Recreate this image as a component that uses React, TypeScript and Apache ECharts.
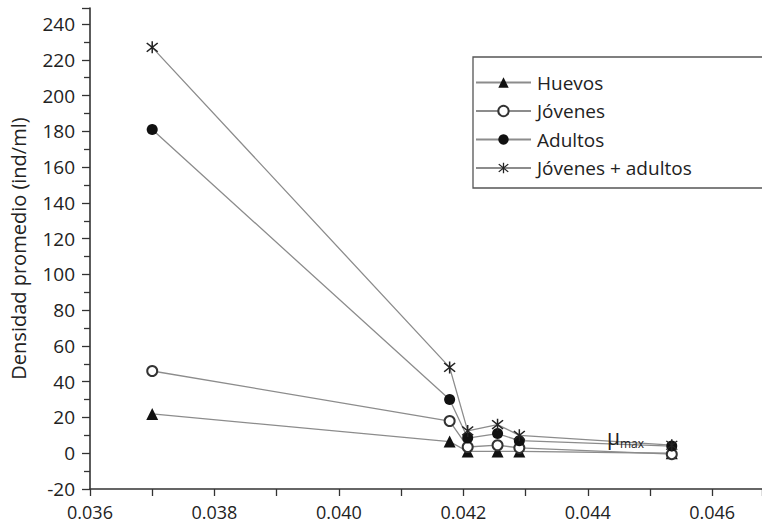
import React, { useEffect, useRef } from "react";
import * as echarts from "echarts";

const xValues = [0.037, 0.04178, 0.04207, 0.04255, 0.0429, 0.04535];
const huevos = [22, 6.5, 1, 1, 1, 0];
const jovenes = [46, 18, 3.5, 4.5, 3, -0.5];
const adultos = [181, 30, 8.5, 11, 7, 4];
const jovenesAdultos = [227, 48, 12.5, 16, 10, 4.5];
const seriesNames = ["Huevos", "Jóvenes", "Adultos", "Jóvenes + adultos"];
const yAxisTitle = "Densidad promedio (ind/ml)";

const STAR =
  "path://M9 0 L11 0 L11 20 L9 20 Z M3.4 2 L18 16.6 L16.6 18 L2 3.4 Z M16.6 2 L18 3.4 L3.4 18 L2 16.6 Z";

const FONT = "'Open Sans', 'Noto Sans', sans-serif";

export default function App() {
  const ref = useRef<HTMLDivElement>(null);
  useEffect(() => {
    if (!ref.current) return;
    const chart = echarts.init(ref.current, null, { renderer: "svg" });
    const pair = (ys: number[]) => xValues.map((x, i) => [x, ys[i]]);
    const lineStyle = { color: "#8c8c8c", width: 1.3 };
    const base = {
      type: "line" as const,
      showSymbol: true,
      lineStyle,
      emphasis: { disabled: true },
    };
    chart.setOption({
      animation: false,
      textStyle: { fontFamily: FONT },
      grid: { left: 88, right: 0, top: 8, bottom: 35, containLabel: false },
      xAxis: {
        type: "value",
        min: 0.036,
        max: 0.0468,
        interval: 0.002,
        axisLine: { onZero: false, lineStyle: { color: "#333", width: 1.6 } },
        axisTick: { inside: false, length: 7, lineStyle: { color: "#333", width: 1.3 } },
        minorTick: { show: true, splitNumber: 2, length: 7, lineStyle: { color: "#333", width: 1.3 } },
        splitLine: { show: false },
        axisLabel: {
          color: "#222",
          fontSize: 18,
          lineHeight: 18,
          margin: 14,
          showMaxLabel: false,
          formatter: (v: number) => v.toFixed(3),
        },
      },
      yAxis: {
        type: "value",
        min: -20,
        max: 249,
        interval: 20,
        name: yAxisTitle,
        nameLocation: "middle",
        nameGap: 62,
        nameTextStyle: { color: "#222", fontSize: 20, fontFamily: FONT },
        axisLine: { show: true, onZero: false, lineStyle: { color: "#333", width: 1.6 } },
        axisTick: { show: true, length: 8, lineStyle: { color: "#333", width: 1.3 } },
        minorTick: { show: true, splitNumber: 2, length: 6, lineStyle: { color: "#333", width: 1.3 } },
        splitLine: { show: false },
        axisLabel: { color: "#222", fontSize: 19, margin: 15, showMaxLabel: false },
      },
      legend: {
        orient: "vertical",
        left: 470,
        top: 68,
        itemWidth: 55,
        itemHeight: 13,
        itemGap: 9.5,
        data: seriesNames,
        textStyle: { color: "#222", fontSize: 19, fontFamily: FONT, padding: [0, 0, 0, 1] },
        selectedMode: false,
      },
      graphic: [
        {
          type: "rect",
          shape: { x: 473, y: 57, width: 400, height: 131 },
          style: { fill: "none", stroke: "#555", lineWidth: 1.3 },
          z: 0,
        },
        {
          type: "text",
          x: 607,
          y: 426,
          style: { text: "μ", fontSize: 21, fill: "#222", fontFamily: FONT },
          z: 100,
        },
        {
          type: "text",
          x: 620,
          y: 437,
          style: { text: "max", fontSize: 12, fill: "#222", fontFamily: FONT },
          z: 100,
        },
      ],
      series: [
        {
          ...base,
          name: seriesNames[0],
          data: pair(huevos),
          symbol: "triangle",
          symbolSize: 12,
          itemStyle: { color: "#111" },
        },
        {
          ...base,
          name: seriesNames[1],
          data: pair(jovenes),
          symbol: "emptyCircle",
          symbolSize: 10,
          itemStyle: { color: "#333", borderWidth: 1.6 },
        },
        {
          ...base,
          name: seriesNames[2],
          data: pair(adultos),
          symbol: "circle",
          symbolSize: 11,
          itemStyle: { color: "#111" },
        },
        {
          ...base,
          name: seriesNames[3],
          data: pair(jovenesAdultos),
          symbol: STAR,
          symbolSize: 12,
          itemStyle: { color: "#222" },
        },
      ],
    });
    return () => chart.dispose();
  }, []);
  return <div ref={ref} style={{ width: 762, height: 524, position: "absolute", left: 0, top: 0, background: "#fff" }} />;
}
